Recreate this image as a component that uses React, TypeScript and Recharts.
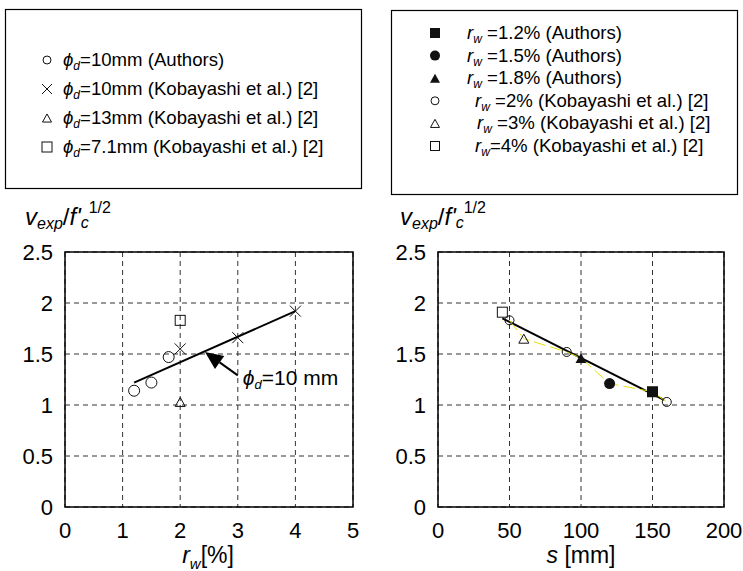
import {
  ScatterChart,
  Scatter,
  XAxis,
  YAxis,
  CartesianGrid,
  ReferenceArea,
  ReferenceLine
} from 'recharts';

const FONT = 'Arial, "Liberation Sans", Helvetica, sans-serif';

// shared y axis: v_exp / sqrt(f'c)
const vTicks = [0, 0.5, 1, 1.5, 2, 2.5];

// left panel: web reinforcement ratio r_w [%]
const rwTicks = [0, 1, 2, 3, 4, 5];
const d10Authors = [{ x: 1.2, y: 1.14 }, { x: 1.5, y: 1.22 }, { x: 1.8, y: 1.47 }];
const d10Koba = [{ x: 2, y: 1.55 }, { x: 3, y: 1.66 }, { x: 4, y: 1.92 }];
const d13Koba = [{ x: 2, y: 1.03 }];
const d71Koba = [{ x: 2, y: 1.83 }];
const d10Fit = [{ x: 1.2, y: 1.22 }, { x: 4, y: 1.92 }];
const d10Arrow = [{ x: 2.43, y: 1.52 }, { x: 3.0, y: 1.29 }];

// right panel: stirrup spacing s [mm]
const sTicks = [0, 50, 100, 150, 200];
const rw12Authors = [{ x: 150, y: 1.13 }];
const rw15Authors = [{ x: 120, y: 1.21 }];
const rw18Authors = [{ x: 100, y: 1.46 }];
const rw2Koba = [{ x: 50, y: 1.83 }, { x: 90, y: 1.52 }, { x: 160, y: 1.03 }];
const rw3Koba = [{ x: 60, y: 1.65 }];
const rw4Koba = [{ x: 45, y: 1.91 }];
const sFit = [{ x: 45, y: 1.85 }, { x: 158, y: 1.05 }];

const leftLegend = [
  { kind: 'circle', size: 8, value: '10mm (Authors)' },
  { kind: 'x', size: 10, value: '10mm (Kobayashi et al.) [2]' },
  { kind: 'triangle', size: 9, value: '13mm (Kobayashi et al.) [2]' },
  { kind: 'square', size: 10, value: '7.1mm (Kobayashi et al.) [2]' }
];
const rightLegend = [
  { kind: 'squareFill', size: 10, value: ' =1.2% (Authors)', dx: 0 },
  { kind: 'circleFill', size: 10, value: ' =1.5% (Authors)', dx: 0 },
  { kind: 'triangleFill', size: 10, value: ' =1.8% (Authors)', dx: 0 },
  { kind: 'circle', size: 8, value: ' =2% (Kobayashi et al.) [2]', dx: 8 },
  { kind: 'triangle', size: 9, value: ' =3% (Kobayashi et al.) [2]', dx: 10 },
  { kind: 'square', size: 9, value: '=4% (Kobayashi et al.) [2]', dx: 8 }
];

const Mark = ({ cx, cy, kind, size }: any) => {
  const h = size / 2;
  const ink = '#111';
  if (cx == null || cy == null) return <g />;
  switch (kind) {
    case 'circle':
      return <circle cx={cx} cy={cy} r={h} fill="none" stroke={ink} strokeWidth={1} />;
    case 'circleFill':
      return <circle cx={cx} cy={cy} r={h} fill={ink} />;
    case 'square':
      return <rect x={cx - h} y={cy - h} width={size} height={size} fill="none" stroke={ink} strokeWidth={1} />;
    case 'squareFill':
      return <rect x={cx - h} y={cy - h} width={size} height={size} fill={ink} />;
    case 'triangle':
    case 'triangleFill': {
      const th = size * 0.9;
      const pts = `${cx},${cy - th / 2} ${cx + h},${cy + th / 2} ${cx - h},${cy + th / 2}`;
      return kind === 'triangle'
        ? <polygon points={pts} fill="none" stroke={ink} strokeWidth={1} />
        : <polygon points={pts} fill={ink} />;
    }
    case 'x':
      return (
        <g stroke={ink} strokeWidth={1}>
          <line x1={cx - h} y1={cy - h} x2={cx + h} y2={cy + h} />
          <line x1={cx - h} y1={cy + h} x2={cx + h} y2={cy - h} />
        </g>
      );
    default:
      return <g />;
  }
};

const shapeOf = (kind: string, size: number) => (p: any) =>
  <Mark cx={p.cx} cy={p.cy} kind={kind} size={size} />;

// arrow pointing at the fitted line, label sits at its tail
const ArrowShape = (p: any) => {
  const { x1, y1, x2, y2 } = p;
  const dx = x1 - x2;
  const dy = y1 - y2;
  const len = Math.sqrt(dx * dx + dy * dy);
  const ux = dx / len;
  const uy = dy / len;
  const hl = 18;
  const hw = 8;
  const bx = x1 - ux * hl;
  const by = y1 - uy * hl;
  return (
    <g>
      <line x1={x2} y1={y2} x2={bx} y2={by} stroke="#000" strokeWidth={2} />
      <polygon
        points={`${x1},${y1} ${bx - uy * hw},${by + ux * hw} ${bx + uy * hw},${by - ux * hw}`}
        fill="#000"
      />
      <text x={x2 + 5} y={y2 + 10} fontSize={21} fontFamily={FONT} fill="#000">
        <tspan fontStyle="italic">ϕ</tspan>
        <tspan fontStyle="italic" fontSize={13} dy={4}>d</tspan>
        <tspan dy={-4}>=10 mm</tspan>
      </text>
    </g>
  );
};

const tickStyle = { fontSize: 22, fill: '#000', fontFamily: FONT };

const YLabel = ({ x }: { x: number }) => (
  <text x={x} y={225} fontSize={24} fontFamily={FONT} fill="#000">
    <tspan fontStyle="italic">v</tspan>
    <tspan fontStyle="italic" fontSize={16} dy={4}>exp</tspan>
    <tspan dy={-4}>/</tspan>
    <tspan fontStyle="italic">f'</tspan>
    <tspan fontStyle="italic" fontSize={16} dy={3}>c</tspan>
    <tspan fontSize={16} dy={-15}>1/2</tspan>
  </text>
);

const App = () => {
  return (
    <div style={{ position: 'absolute', left: 0, top: 0, width: 743, height: 571, background: '#fff', fontFamily: FONT }}>
      <div style={{ position: 'absolute', left: 0, top: 180 }}>
        <ScatterChart width={370} height={391} margin={{ top: 72, right: 17, bottom: 0, left: 0 }}>
          <CartesianGrid strokeDasharray="5 4" stroke="#333" />
          <XAxis
            type="number"
            dataKey="x"
            domain={[0, 5]}
            ticks={rwTicks}
            tickLine={false}
            axisLine={false}
            tick={tickStyle}
            tickMargin={9}
            height={64}
          />
          <YAxis
            type="number"
            dataKey="y"
            domain={[0, 2.5]}
            ticks={vTicks}
            tickLine={false}
            axisLine={false}
            tick={tickStyle}
            tickMargin={6}
            width={65}
          />
          <ReferenceArea x1={0} x2={5} y1={0} y2={2.5} fill="none" stroke="#000" strokeWidth={1.5} />
          <ReferenceLine segment={d10Fit} stroke="#000" strokeWidth={2} />
          <ReferenceLine segment={d10Arrow} shape={ArrowShape} />
          <Scatter data={d10Authors} shape={shapeOf('circle', 11)} isAnimationActive={false} />
          <Scatter data={d10Koba} shape={shapeOf('x', 11)} isAnimationActive={false} />
          <Scatter data={d13Koba} shape={shapeOf('triangle', 10)} isAnimationActive={false} />
          <Scatter data={d71Koba} shape={shapeOf('square', 10)} isAnimationActive={false} />
        </ScatterChart>
      </div>

      <div style={{ position: 'absolute', left: 370, top: 180 }}>
        <ScatterChart width={373} height={391} margin={{ top: 72, right: 19, bottom: 0, left: 0 }}>
          <CartesianGrid strokeDasharray="5 4" stroke="#333" />
          <XAxis
            type="number"
            dataKey="x"
            domain={[0, 200]}
            ticks={sTicks}
            tickLine={false}
            axisLine={false}
            tick={tickStyle}
            tickMargin={9}
            height={64}
          />
          <YAxis
            type="number"
            dataKey="y"
            domain={[0, 2.5]}
            ticks={vTicks}
            tickLine={false}
            axisLine={false}
            tick={tickStyle}
            tickMargin={6}
            width={68}
          />
          <ReferenceArea x1={0} x2={200} y1={0} y2={2.5} fill="none" stroke="#000" strokeWidth={1.5} />
          <Scatter
            data={[...rw2Koba, ...rw3Koba, ...rw12Authors, ...rw15Authors, ...rw18Authors]
              .sort((a, b) => a.x - b.x)}
            line={{ stroke: '#e6e200', strokeWidth: 1, strokeDasharray: '12 5' }}
            lineType="joint"
            shape={() => <g />}
            isAnimationActive={false}
          />
          <ReferenceLine segment={sFit} stroke="#000" strokeWidth={2} />
          <Scatter data={rw4Koba} shape={shapeOf('square', 10)} isAnimationActive={false} />
          <Scatter data={rw2Koba} shape={shapeOf('circle', 9)} isAnimationActive={false} />
          <Scatter data={rw3Koba} shape={shapeOf('triangle', 10)} isAnimationActive={false} />
          <Scatter data={rw18Authors} shape={shapeOf('triangleFill', 11)} isAnimationActive={false} />
          <Scatter data={rw15Authors} shape={shapeOf('circleFill', 11)} isAnimationActive={false} />
          <Scatter data={rw12Authors} shape={shapeOf('squareFill', 11)} isAnimationActive={false} />
        </ScatterChart>
      </div>

      <svg width={743} height={571} style={{ position: 'absolute', left: 0, top: 0, pointerEvents: 'none' }}>
        {/* legend boxes */}
        <rect x={5.5} y={9.5} width={356} height={179} fill="none" stroke="#000" strokeWidth={1.2} />
        {leftLegend.map((row, i) => {
          const cy = 60 + i * 29;
          return (
            <g key={`l-${i}`}>
              <Mark cx={47} cy={cy} kind={row.kind} size={row.size} />
              <text x={63} y={cy + 6} fontSize={18.6} fontFamily={FONT} fill="#000">
                <tspan fontStyle="italic">ϕ</tspan>
                <tspan fontStyle="italic" fontSize={12} dy={4}>d</tspan>
                <tspan dy={-4}>{'=' + row.value}</tspan>
              </text>
            </g>
          );
        })}

        <rect x={391.5} y={10.5} width={346} height={184} fill="none" stroke="#000" strokeWidth={1.2} />
        {rightLegend.map((row, i) => {
          const cy = 33 + i * 22.6;
          return (
            <g key={`r-${i}`}>
              <Mark cx={435} cy={cy} kind={row.kind} size={row.size} />
              <text x={467 + row.dx} y={cy + 6} fontSize={18.6} fontFamily={FONT} fill="#000" xmlSpace="preserve">
                <tspan fontStyle="italic">r</tspan>
                <tspan fontStyle="italic" fontSize={12} dy={4}>w</tspan>
                <tspan dy={-4}>{row.value}</tspan>
              </text>
            </g>
          );
        })}

        {/* axis titles */}
        <YLabel x={25} />
        <YLabel x={400} />
        <text x={208} y={563} fontSize={23} fontFamily={FONT} fill="#000" textAnchor="middle">
          <tspan fontStyle="italic">r</tspan>
          <tspan fontStyle="italic" fontSize={15} dy={6}>w</tspan>
          <tspan dy={-6}>[%]</tspan>
        </text>
        <text x={581} y={563} fontSize={23} fontFamily={FONT} fill="#000" textAnchor="middle">
          <tspan fontStyle="italic">s</tspan>
          <tspan> [mm]</tspan>
        </text>
      </svg>
    </div>
  );
};

export default App;
